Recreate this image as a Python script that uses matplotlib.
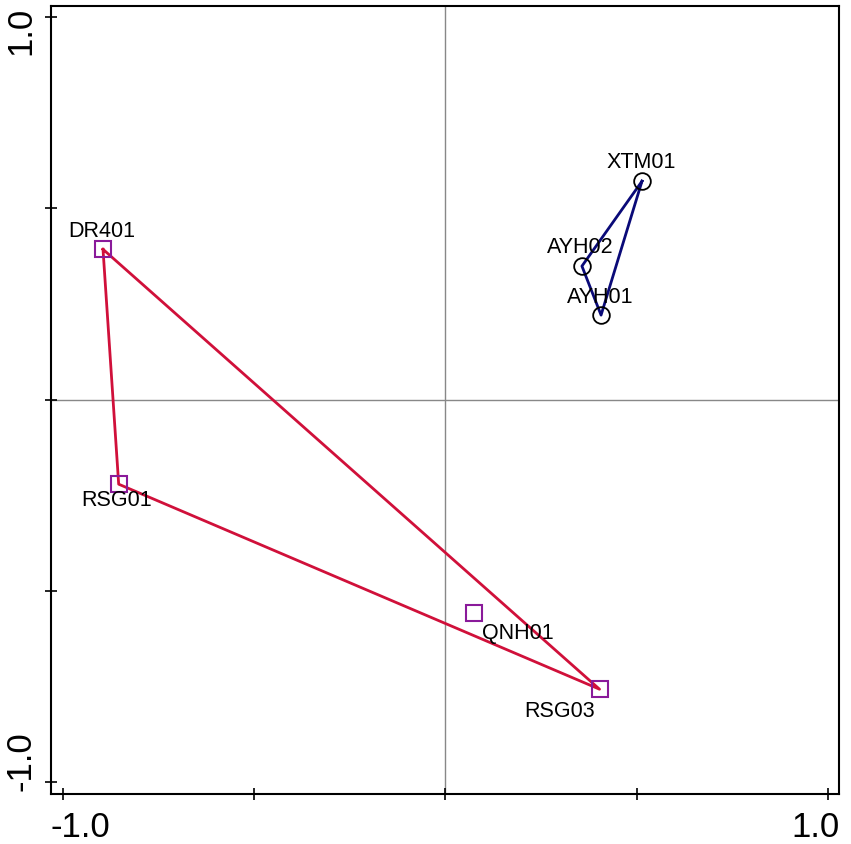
import matplotlib.pyplot as plt
import matplotlib.transforms as mtransforms

plt.rcParams['font.family'] = ['Liberation Sans', 'DejaVu Sans']

# site scores
sq_names = ['DR401', 'RSG01', 'QNH01', 'RSG03']
sq_x = [-0.895, -0.854, 0.075, 0.403]
sq_y = [0.393, -0.221, -0.558, -0.757]

ci_names = ['XTM01', 'AYH02', 'AYH01']
ci_x = [0.514, 0.357, 0.407]
ci_y = [0.571, 0.349, 0.221]

# hull orders
red_hull = ['DR401', 'RSG01', 'RSG03', 'DR401']
blue_hull = ['XTM01', 'AYH02', 'AYH01', 'XTM01']

# label offsets in pixels
offsets = {'DR401': (-1, 18), 'RSG01': (-2, -16), 'QNH01': (44, -20),
           'RSG03': (-40, -22), 'XTM01': (-1, 19), 'AYH02': (-2, 19),
           'AYH01': (-1, 18)}

fig = plt.figure(figsize=(8.51, 8.44), dpi=100)
ax = fig.add_axes([0.0599, 0.0592, 0.926, 0.9337])

ax.axhline(0, color='#888888', lw=1, zorder=1)
ax.axvline(0, color='#888888', lw=1, zorder=1)

sq = dict(zip(sq_names, zip(sq_x, sq_y)))
ci = dict(zip(ci_names, zip(ci_x, ci_y)))

ax.plot([sq[n][0] for n in red_hull], [sq[n][1] for n in red_hull],
        color='#d0103a', lw=2, zorder=2)
ax.plot([ci[n][0] for n in blue_hull], [ci[n][1] for n in blue_hull],
        color='#0a0a78', lw=2, zorder=2)

ax.plot(sq_x, sq_y, 's', ms=11, mfc='none', mec='#8a1a9a', mew=1.5, zorder=3)
ax.plot(ci_x, ci_y, 'o', ms=12, mfc='none', mec='black', mew=1.3, zorder=3)

for n, (x, y) in list(sq.items()) + list(ci.items()):
    ax.annotate(n, (x, y), xytext=offsets[n], textcoords='offset pixels',
                ha='center', va='center', fontsize=15.5)

ax.set_xlim(-1.031, 1.029)
ax.set_ylim(-1.031, 1.029)
ax.set_xticks([-1.0, -0.5, 0, 0.5, 1.0])
ax.set_xticklabels(['-1.0', '', '', '', '1.0'])
ax.set_yticks([-1.0, -0.5, 0, 0.5, 1.0])
ax.set_yticklabels(['-1.0', '', '', '', '1.0'], rotation=90, va='center')
ax.tick_params(direction='inout', length=8, width=1.2, labelsize=25)
ax.tick_params(axis='x', pad=8)
ax.tick_params(axis='y', pad=6)
for s in ax.spines.values():
    s.set_linewidth(1.5)

# nudge the end labels inward like the original
xl = ax.get_xticklabels()
yl = ax.get_yticklabels()
shifts = [(xl[0], 18, 0), (xl[-1], -12, 0), (yl[0], 0, 21), (yl[-1], 0, -14)]
for lab, dx, dy in shifts:
    off = mtransforms.ScaledTranslation(dx / 100, dy / 100, fig.dpi_scale_trans)
    lab.set_transform(lab.get_transform() + off)

fig.savefig('out.png', dpi=100)
